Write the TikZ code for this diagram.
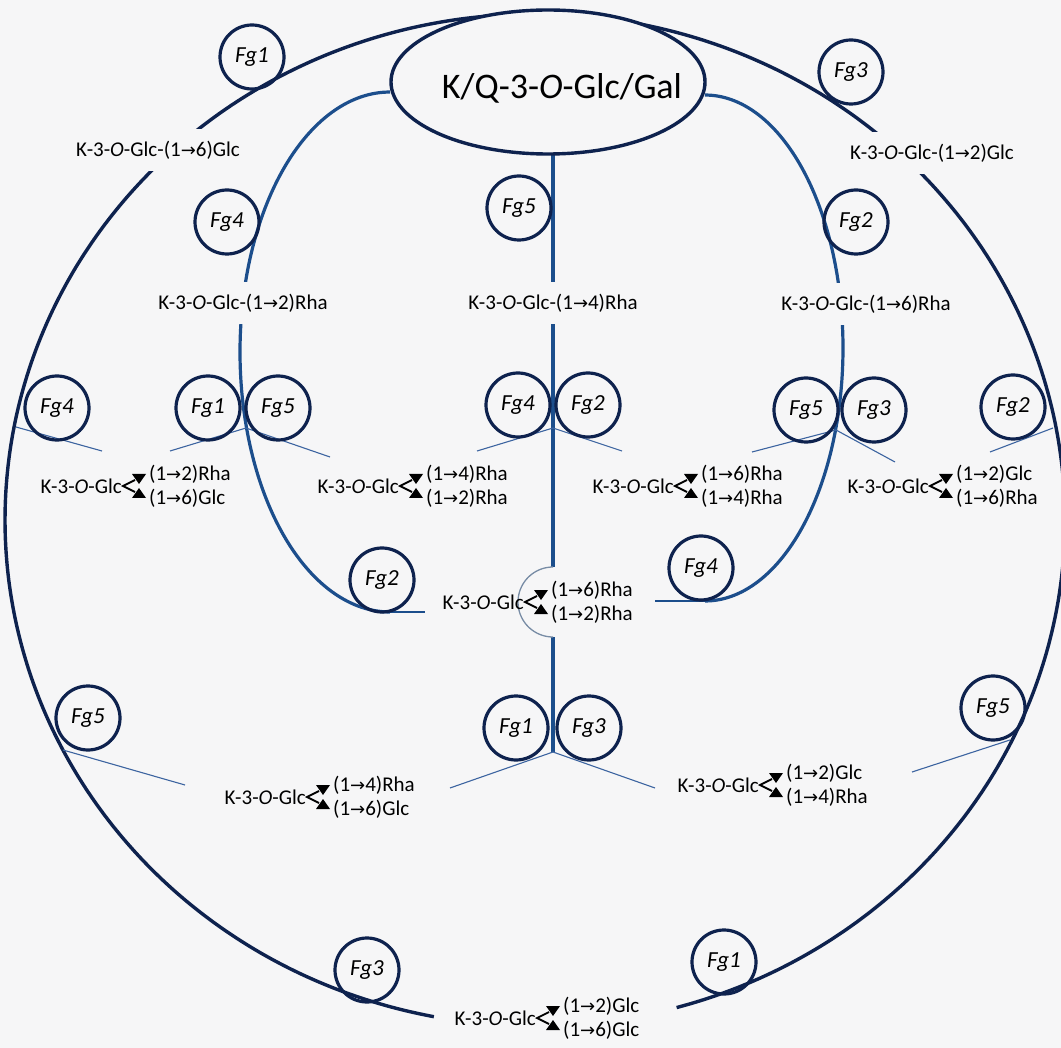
\documentclass[tikz,border=0pt]{standalone}
\usepackage{fontspec}
\setmainfont{Carlito}
\newfontfamily\arrfont{DejaVu Sans}
\usetikzlibrary{calc,shapes.geometric}
\definecolor{bgc}{RGB}{246,246,247}
\definecolor{navy}{RGB}{14,34,78}
\definecolor{midblue}{RGB}{28,78,140}
\definecolor{thinblue}{RGB}{60,100,160}
\definecolor{semig}{RGB}{120,140,165}
\newcommand\ra{{\arrfont\fontsize{18}{18}\selectfont →}}
\tikzset{
 lbl/.style={font=\fontsize{21}{23}\selectfont, inner sep=0pt, text=black},
 cutlbl/.style={lbl, fill=bgc, inner xsep=3pt, inner ysep=12pt},
 fg/.style={circle, draw=navy, line width=3.2pt, minimum size=64pt, inner sep=0pt, font=\fontsize{23}{23}\selectfont\itshape},
 outerline/.style={draw=navy, line width=3.4pt},
 innerline/.style={draw=midblue, line width=3.2pt},
 thinline/.style={draw=thinblue, line width=1.1pt},
 brsym/.pic={
   \draw[line width=1.8pt] (12,-6) -- (0,0) -- (12,6);
   \fill (9,-12) -- (23,-12) -- (16,-2) -- cycle;
   \fill (9,12) -- (23,12) -- (16,2) -- cycle;
 }
}
\newcommand\branch[5]{%
  \coordinate (#1v) at (#2,#3);
  \node[lbl, anchor=east] (#1p) at ($(#1v)+(-1,0)$) {K-3-\textit{O}-Glc};
  \pic at (#1v) {brsym};
  \node[lbl, anchor=west] (#1u) at ($(#1v)+(26,-12)$) {#4};
  \node[lbl, anchor=west] (#1l) at ($(#1v)+(26,12)$) {#5};
}
\begin{document}
\begin{tikzpicture}[x=1pt,y=-1pt]
\fill[bgc] (0,0) rectangle (1061,1048);
\useasboundingbox (0,0) rectangle (1061,1048);

% outer boundary (ellipse, open at the bottom)
\draw[outerline] plot[smooth, domain=101:434.5, samples=200] ({535+530*cos(\x)},{520+506*sin(\x)});

% inner arcs
\draw[innerline] plot[smooth, domain=90:270, samples=80] ({390+150*cos(\x)},{352+260*sin(\x)});
\draw[innerline] plot[smooth, domain=-90:90, samples=80] ({705+138*cos(\x)},{348+253*sin(\x)});
\coordinate (lb) at (390,612); \coordinate (lbe) at (425,612);
\coordinate (rb) at (705,601); \coordinate (rbe) at (655,601);
\draw[midblue, line width=1.6pt] (lb) -- (lbe);
\draw[midblue, line width=1.6pt] (rb) -- (rbe);

% vertical line
\coordinate (vt) at (553,150); \coordinate (vs1) at (553,567);
\coordinate (vs2) at (553,637); \coordinate (jD) at (553,752);
\draw[innerline] (vt) -- (vs1);
\draw[innerline] (vs2) -- (jD);
\draw[semig, line width=1.3pt] plot[smooth, domain=270:90, samples=40] ({553+35*cos(\x)},{602+35*sin(\x)});

% thin branch lines
\coordinate (oL4) at (16,427); \coordinate (eL4) at (102,451);
\coordinate (jL) at (246,428); \coordinate (eLa) at (170,451); \coordinate (eLb) at (330,457);
\coordinate (jC) at (553,428); \coordinate (eCa) at (477,451); \coordinate (eCb) at (622,451);
\coordinate (jR) at (836,430); \coordinate (eRa) at (752,452); \coordinate (eRb) at (895,462);
\coordinate (oR2) at (1053,428); \coordinate (eR2) at (990,452);
\coordinate (eDa) at (450,788); \coordinate (eDb) at (655,788);
\coordinate (oL5) at (63,750); \coordinate (eL5) at (185,785);
\coordinate (oR5) at (1010,740); \coordinate (eR5) at (912,772);
\foreach \a/\b in {oL4/eL4, jL/eLa, jL/eLb, jC/eCa, jC/eCb, jR/eRa, jR/eRb, oR2/eR2, jD/eDa, jD/eDb, oL5/eL5, oR5/eR5}
  \draw[thinline] (\a) -- (\b);

% top ellipse
\node[ellipse, draw=navy, line width=3.4pt, fill=bgc, minimum width=314pt, minimum height=144pt] (top) at (548,82) {};
\node[inner sep=0pt, font=\fontsize{36}{40}\selectfont] (toptxt) at (562,88) {K/Q-3-\textit{O}-Glc/Gal};

% labels cutting lines
\node[cutlbl] (l16g) at (158,150) {K-3-\textit{O}-Glc-(1\ra6)Glc};
\node[cutlbl] (l12g) at (932,153) {K-3-\textit{O}-Glc-(1\ra2)Glc};
\node[cutlbl] (l12r) at (243,303) {K-3-\textit{O}-Glc-(1\ra2)Rha};
\node[cutlbl] (l14r) at (553,303) {K-3-\textit{O}-Glc-(1\ra4)Rha};
\node[cutlbl] (l16r) at (866,304) {K-3-\textit{O}-Glc-(1\ra6)Rha};

% branch labels
\branch{bA}{123}{486}{(1\ra2)Rha}{(1\ra6)Glc}
\branch{bB}{400}{486}{(1\ra4)Rha}{(1\ra2)Rha}
\branch{bC}{675}{486}{(1\ra6)Rha}{(1\ra4)Rha}
\branch{bD}{930}{486}{(1\ra2)Glc}{(1\ra6)Rha}
\branch{bE}{525}{602}{(1\ra6)Rha}{(1\ra2)Rha}
\branch{bF}{307}{797}{(1\ra4)Rha}{(1\ra6)Glc}
\branch{bG}{760}{785}{(1\ra2)Glc}{(1\ra4)Rha}
\branch{bH}{537}{1018}{(1\ra2)Glc}{(1\ra6)Glc}

% Fg circles
\node[fg] (fgA1) at (252,57) {Fg1};
\node[fg] (fgA3) at (851,72) {Fg3};
\node[fg] (fgB4) at (227,222) {Fg4};
\node[fg] (fgB5) at (519,208) {Fg5};
\node[fg] (fgB2) at (856,222) {Fg2};
\node[fg] (fgC4) at (57,408) {Fg4};
\node[fg] (fgC1) at (208,408) {Fg1};
\node[fg] (fgC5) at (278,408) {Fg5};
\node[fg] (fgC4b) at (518,405) {Fg4};
\node[fg] (fgC2) at (588,405) {Fg2};
\node[fg] (fgC5b) at (806,410) {Fg5};
\node[fg] (fgC3) at (874,410) {Fg3};
\node[fg] (fgC2b) at (1013,407) {Fg2};
\node[fg] (fgD2) at (382,580) {Fg2};
\node[fg] (fgD4) at (701,568) {Fg4};
\node[fg] (fgE5) at (88,718) {Fg5};
\node[fg] (fgE1) at (516,728) {Fg1};
\node[fg] (fgE3) at (589,728) {Fg3};
\node[fg] (fgE5b) at (993,708) {Fg5};
\node[fg] (fgF3) at (367,970) {Fg3};
\node[fg] (fgF1) at (724,962) {Fg1};
\end{tikzpicture}
\end{document}
